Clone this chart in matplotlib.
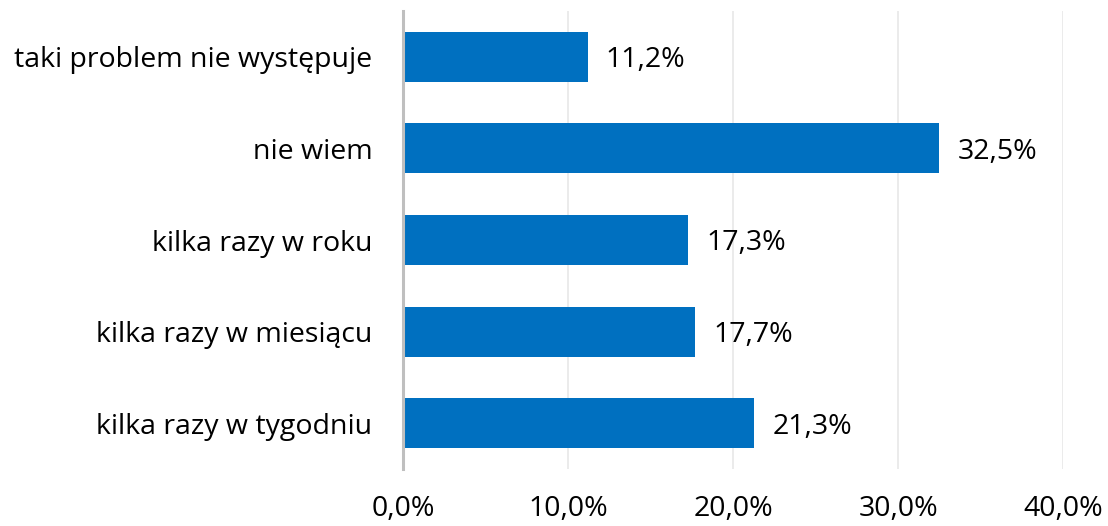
import matplotlib
matplotlib.use("Agg")
import matplotlib.pyplot as plt
from matplotlib.ticker import FuncFormatter

# dane (od dołu do góry)
categories = ["kilka razy w tygodniu", "kilka razy w miesiącu", "kilka razy w roku",
              "nie wiem", "taki problem nie występuje"]
values = [21.3, 17.7, 17.3, 32.5, 11.2]
xticks = [0, 10, 20, 30, 40]

bar_color = "#0070C0"
fs = 20.5
plt.rcParams["font.family"] = ["Open Sans", "DejaVu Sans"]

fig = plt.figure(figsize=(11.08, 5.26), dpi=100)
ax = fig.add_axes([403 / 1108, 1 - 469 / 526, 660 / 1108, 458 / 526])

pos = list(range(len(categories)))
ax.barh(pos, values, height=0.545, color=bar_color, zorder=3)

for p, v in zip(pos, values):
    ax.text(v + 1.1, p, f"{v:.1f}%".replace(".", ","), va="center_baseline", ha="left",
            fontsize=fs, color="#000000")

ax.set_xlim(0, 40)
ax.set_ylim(-0.5, 4.5)
ax.set_xticks(xticks)
ax.xaxis.set_major_formatter(FuncFormatter(lambda x, _: f"{x:.1f}%".replace(".", ",")))
ax.set_yticks(pos)
ax.set_yticklabels(categories, va="center_baseline")

ax.grid(axis="x", color="#E6E6E6", linewidth=1.1, zorder=0)
for s in ["top", "right", "bottom"]:
    ax.spines[s].set_visible(False)
ax.spines["left"].set_color("#BFBFBF")
ax.spines["left"].set_linewidth(2.2)
ax.spines["left"].set_zorder(4)

ax.tick_params(axis="both", length=0, labelsize=fs, colors="#000000")
ax.tick_params(axis="x", pad=19)
ax.tick_params(axis="y", pad=22)

fig.savefig("out.png", dpi=100)
